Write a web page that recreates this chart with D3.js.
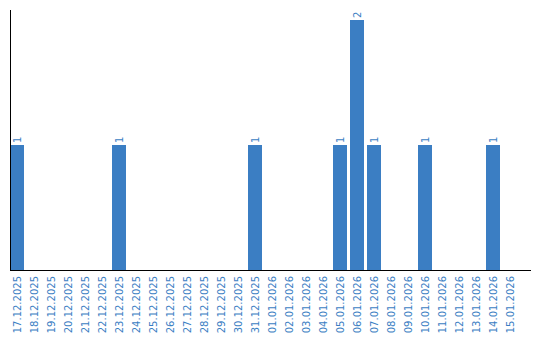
<!DOCTYPE html>
<html>
<head>
<meta charset="utf-8">
<script src="https://cdn.jsdelivr.net/npm/d3@7"></script>
<style>
  body { margin: 0; background: #fff; }
  text { font-family: "DejaVu Sans", sans-serif; }
</style>
</head>
<body>
<div id="chart"></div>
<script>
var days = ["17.12.2025", "18.12.2025", "19.12.2025", "20.12.2025", "21.12.2025",
    "22.12.2025", "23.12.2025", "24.12.2025", "25.12.2025", "26.12.2025",
    "27.12.2025", "28.12.2025", "29.12.2025", "30.12.2025", "31.12.2025",
    "01.01.2026", "02.01.2026", "03.01.2026", "04.01.2026", "05.01.2026",
    "06.01.2026", "07.01.2026", "08.01.2026", "09.01.2026", "10.01.2026",
    "11.01.2026", "12.01.2026", "13.01.2026", "14.01.2026", "15.01.2026"]
var counts = [1, 0, 0, 0, 0, 0, 1, 0, 0, 0, 0, 0, 0, 0, 1,
    0, 0, 0, 0, 1, 2, 1, 0, 0, 1, 0, 0, 0, 1, 0]

var width = 540
var height = 340
var barColor = "#3b7ec3"

var svg = d3.select("#chart").append("svg").attr("width", width).attr("height", height)

// 17px per day, 14px wide bars
var x = d3.scaleBand()
    .domain(days)
    .range([10, 517])
    .paddingInner(3 / 17)
    .paddingOuter(0)

var y = d3.scaleLinear()
    .domain([0, 2])
    .range([270, 20])

var data = days.map((d, i) => ({ day: d, count: counts[i] }))

svg.selectAll(".bar")
    .data(data.filter(d => d.count > 0))
    .enter()
    .append("rect")
    .attr("class", "bar")
    .attr("fill", barColor)
    .attr("x", d => x(d.day))
    .attr("width", x.bandwidth())
    .attr("y", d => y(d.count))
    .attr("height", d => y(0) - y(d.count))

// value labels above bars, rotated
svg.selectAll(".value")
    .data(data.filter(d => d.count > 0))
    .enter()
    .append("text")
    .attr("class", "value")
    .attr("fill", barColor)
    .attr("font-size", "10px")
    .attr("text-anchor", "start")
    .attr("dy", "0.35em")
    .attr("transform", d => "translate(" + (x(d.day) + x.bandwidth() / 2) + "," + (y(d.count) - 2) + ") rotate(-90)")
    .text(d => d.count)

// date labels
svg.selectAll(".day")
    .data(days)
    .enter()
    .append("text")
    .attr("class", "day")
    .attr("fill", barColor)
    .attr("font-size", "10px")
    .attr("text-anchor", "end")
    .attr("dy", "0.35em")
    .attr("transform", d => "translate(" + (x(d) + x.bandwidth() / 2) + "," + 276 + ") rotate(-90)")
    .text(d => d)

// axis lines
svg.append("line")
    .attr("x1", 10.5).attr("x2", 10.5)
    .attr("y1", 10).attr("y2", 270)
    .attr("stroke", "#000")
svg.append("line")
    .attr("x1", 10).attr("x2", 531)
    .attr("y1", 270.5).attr("y2", 270.5)
    .attr("stroke", "#000")
</script>
</body>
</html>
